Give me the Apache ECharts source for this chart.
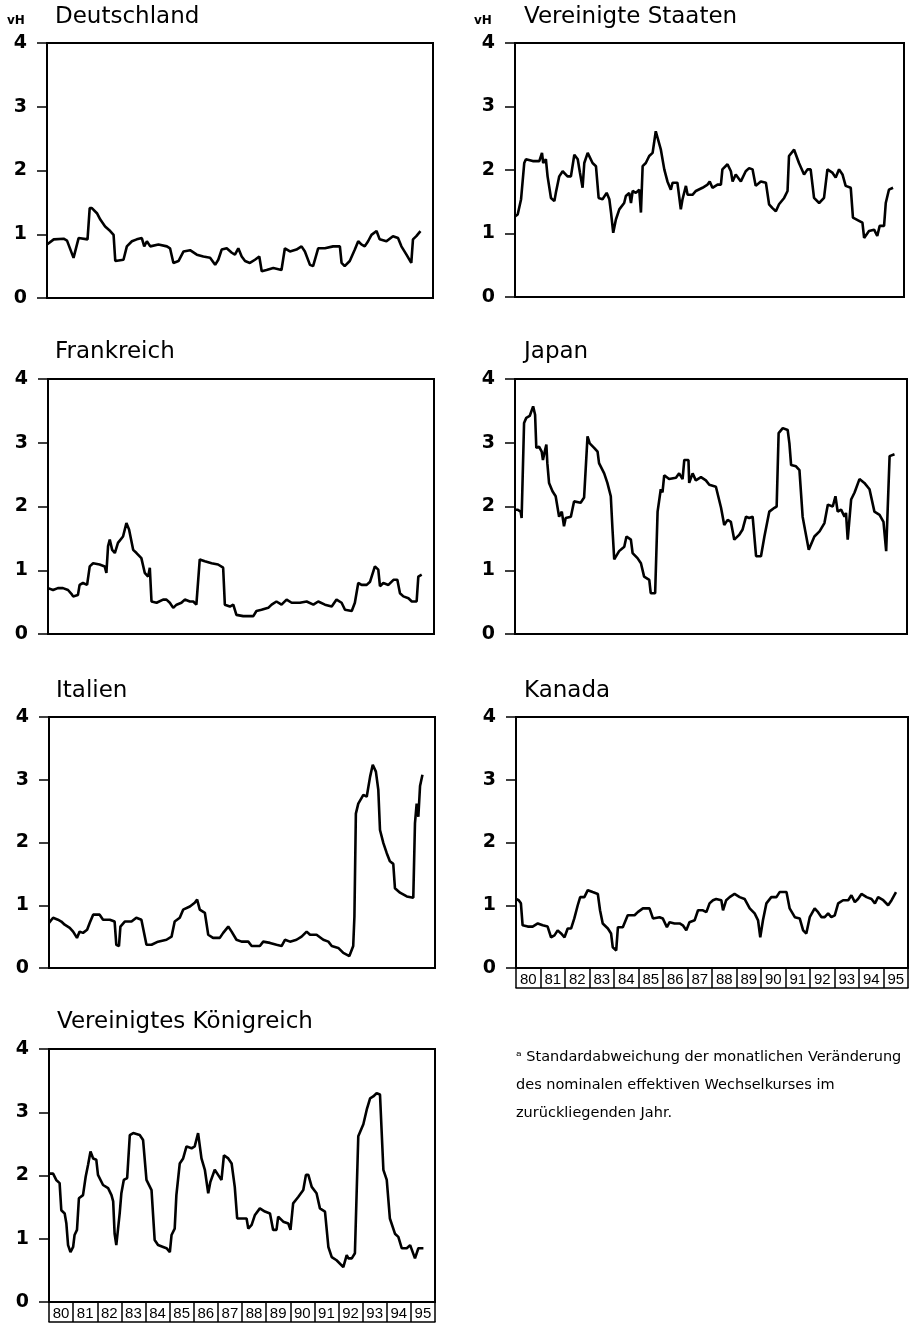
<!DOCTYPE html>
<html>
<head>
<meta charset="utf-8">
<script src="https://cdn.jsdelivr.net/npm/echarts@6/dist/echarts.min.js"></script>
<style>
html,body{margin:0;padding:0;background:#fff;}
#chart{width:912px;height:1325px;}
</style>
</head>
<body>
<div id="chart"></div>
<script>
// ---- Data: [year, vH] ----
const yearLabels = ['80','81','82','83','84','85','86','87','88','89','90','91','92','93','94','95'];
const yTickMin = 0, yTickMax = 4, yTickStep = 1;
const xMin = 1980, xMax = 1996;

const deutschland = [[1980.0,0.84],[1980.28,0.92],[1980.69,0.93],[1980.83,0.9],[1981.1,0.63],[1981.31,0.94],[1981.68,0.92],[1981.77,1.41],[1981.86,1.41],[1982.07,1.33],[1982.21,1.23],[1982.41,1.12],[1982.62,1.05],[1982.76,0.99],[1982.83,0.58],[1982.9,0.6],[1983.17,0.6],[1983.31,0.81],[1983.52,0.89],[1983.72,0.92],[1983.93,0.94],[1984.03,0.81],[1984.14,0.89],[1984.28,0.81],[1984.62,0.84],[1984.97,0.81],[1985.1,0.78],[1985.24,0.55],[1985.45,0.58],[1985.66,0.73],[1985.93,0.75],[1986.21,0.68],[1986.48,0.65],[1986.76,0.63],[1986.97,0.52],[1987.1,0.6],[1987.24,0.76],[1987.45,0.78],[1987.66,0.71],[1987.79,0.68],[1987.93,0.78],[1988.07,0.65],[1988.21,0.58],[1988.41,0.55],[1988.62,0.6],[1988.8,0.65],[1988.9,0.42],[1989.1,0.44],[1989.38,0.47],[1989.72,0.44],[1989.86,0.78],[1990.07,0.73],[1990.34,0.76],[1990.55,0.81],[1990.69,0.73],[1990.9,0.52],[1991.03,0.5],[1991.24,0.78],[1991.52,0.78],[1991.86,0.81],[1992.14,0.81],[1992.21,0.55],[1992.34,0.5],[1992.55,0.58],[1992.76,0.76],[1992.9,0.89],[1993.03,0.84],[1993.17,0.81],[1993.31,0.89],[1993.45,0.99],[1993.66,1.05],[1993.79,0.92],[1994.07,0.89],[1994.34,0.97],[1994.55,0.94],[1994.69,0.81],[1994.9,0.68],[1995.1,0.55],[1995.17,0.92],[1995.31,0.97],[1995.48,1.05]];

const vereinigteStaaten = [[1980.0,1.27],[1980.11,1.3],[1980.25,1.54],[1980.32,1.56],[1980.38,2.11],[1980.45,2.17],[1980.73,2.14],[1981.0,2.14],[1981.11,2.27],[1981.16,2.11],[1981.27,2.17],[1981.34,1.9],[1981.48,1.56],[1981.62,1.51],[1981.68,1.64],[1981.82,1.9],[1981.96,1.98],[1982.16,1.9],[1982.3,1.9],[1982.44,2.24],[1982.58,2.17],[1982.67,1.96],[1982.78,1.72],[1982.85,2.11],[1982.99,2.27],[1983.19,2.11],[1983.33,2.06],[1983.44,1.56],[1983.6,1.54],[1983.77,1.64],[1983.88,1.54],[1983.95,1.33],[1984.04,1.01],[1984.15,1.22],[1984.29,1.38],[1984.49,1.48],[1984.56,1.59],[1984.7,1.64],[1984.77,1.48],[1984.84,1.67],[1984.97,1.64],[1985.11,1.69],[1985.18,1.33],[1985.25,2.06],[1985.38,2.11],[1985.52,2.22],[1985.66,2.27],[1985.79,2.61],[1985.86,2.61],[1986.0,2.32],[1986.14,2.01],[1986.27,1.82],[1986.41,1.69],[1986.48,1.8],[1986.68,1.8],[1986.82,1.38],[1986.89,1.54],[1987.03,1.75],[1987.1,1.61],[1987.3,1.61],[1987.44,1.67],[1987.71,1.72],[1987.92,1.77],[1988.01,1.82],[1988.12,1.72],[1988.33,1.77],[1988.47,1.77],[1988.53,2.01],[1988.74,2.09],[1988.88,1.98],[1988.95,1.82],[1989.08,1.93],[1989.29,1.82],[1989.49,1.98],[1989.63,2.03],[1989.77,2.01],[1989.9,1.75],[1990.11,1.82],[1990.32,1.8],[1990.45,1.46],[1990.59,1.4],[1990.73,1.35],[1990.86,1.46],[1991.07,1.56],[1991.21,1.67],[1991.27,2.22],[1991.48,2.32],[1991.55,2.32],[1991.68,2.11],[1991.89,1.93],[1992.03,2.01],[1992.16,2.01],[1992.3,1.56],[1992.51,1.48],[1992.71,1.56],[1992.85,2.01],[1993.05,1.96],[1993.19,1.88],[1993.33,2.01],[1993.47,1.93],[1993.6,1.75],[1993.81,1.72],[1993.9,1.25],[1994.15,1.2],[1994.29,1.17],[1994.36,0.93],[1994.56,1.04],[1994.77,1.06],[1994.9,0.96],[1995.0,1.12],[1995.18,1.12],[1995.25,1.48],[1995.38,1.69],[1995.55,1.72]];

const frankreich = [[1980.0,0.72],[1980.21,0.69],[1980.41,0.72],[1980.62,0.72],[1980.83,0.69],[1980.97,0.63],[1981.04,0.59],[1981.24,0.61],[1981.31,0.77],[1981.45,0.8],[1981.62,0.77],[1981.73,1.06],[1981.87,1.11],[1982.14,1.09],[1982.35,1.06],[1982.42,0.96],[1982.49,1.38],[1982.56,1.48],[1982.66,1.32],[1982.77,1.27],[1982.9,1.43],[1983.11,1.53],[1983.25,1.74],[1983.36,1.64],[1983.53,1.32],[1983.67,1.27],[1983.87,1.19],[1984.01,0.96],[1984.15,0.9],[1984.22,1.04],[1984.29,0.51],[1984.5,0.49],[1984.77,0.54],[1984.91,0.54],[1985.05,0.49],[1985.19,0.41],[1985.33,0.46],[1985.53,0.49],[1985.67,0.54],[1985.88,0.51],[1986.02,0.51],[1986.15,0.46],[1986.29,1.17],[1986.5,1.14],[1986.78,1.11],[1987.05,1.09],[1987.26,1.04],[1987.33,0.46],[1987.54,0.43],[1987.68,0.46],[1987.81,0.3],[1988.09,0.28],[1988.51,0.28],[1988.64,0.36],[1988.85,0.38],[1989.13,0.41],[1989.27,0.46],[1989.47,0.51],[1989.68,0.46],[1989.89,0.54],[1990.1,0.49],[1990.44,0.49],[1990.72,0.51],[1991.0,0.46],[1991.2,0.51],[1991.48,0.46],[1991.76,0.43],[1991.96,0.54],[1992.17,0.49],[1992.31,0.38],[1992.59,0.36],[1992.72,0.49],[1992.86,0.8],[1993.0,0.77],[1993.21,0.77],[1993.35,0.82],[1993.55,1.06],[1993.69,1.01],[1993.76,0.75],[1993.9,0.8],[1994.11,0.77],[1994.32,0.85],[1994.48,0.85],[1994.59,0.64],[1994.73,0.59],[1994.94,0.56],[1995.08,0.51],[1995.28,0.51],[1995.35,0.9],[1995.49,0.93]];

const japan = [[1980.0,1.95],[1980.1,1.95],[1980.23,1.92],[1980.27,1.82],[1980.37,3.31],[1980.46,3.39],[1980.6,3.42],[1980.74,3.57],[1980.82,3.44],[1980.87,2.92],[1980.98,2.94],[1981.09,2.86],[1981.14,2.73],[1981.23,2.89],[1981.28,2.97],[1981.32,2.68],[1981.39,2.37],[1981.53,2.24],[1981.66,2.16],[1981.8,1.84],[1981.91,1.92],[1982.0,1.69],[1982.07,1.82],[1982.28,1.84],[1982.41,2.08],[1982.68,2.06],[1982.82,2.14],[1982.96,3.1],[1983.05,2.99],[1983.23,2.92],[1983.37,2.86],[1983.43,2.68],[1983.64,2.52],[1983.77,2.37],[1983.91,2.16],[1983.98,1.64],[1984.05,1.17],[1984.25,1.3],[1984.46,1.37],[1984.55,1.53],[1984.73,1.48],[1984.8,1.27],[1985.0,1.19],[1985.14,1.11],[1985.27,0.9],[1985.48,0.85],[1985.54,0.64],[1985.72,0.64],[1985.82,1.92],[1985.95,2.27],[1986.02,2.22],[1986.09,2.49],[1986.29,2.43],[1986.57,2.45],[1986.7,2.52],[1986.84,2.43],[1986.91,2.73],[1987.08,2.73],[1987.11,2.37],[1987.25,2.52],[1987.38,2.41],[1987.59,2.46],[1987.79,2.41],[1987.93,2.34],[1988.2,2.31],[1988.41,1.98],[1988.54,1.71],[1988.68,1.79],[1988.81,1.76],[1988.95,1.48],[1989.16,1.56],[1989.29,1.64],[1989.43,1.84],[1989.56,1.82],[1989.7,1.84],[1989.84,1.22],[1990.04,1.22],[1990.18,1.53],[1990.38,1.92],[1990.59,1.98],[1990.68,2.0],[1990.76,3.15],[1990.93,3.23],[1991.13,3.2],[1991.2,2.99],[1991.27,2.65],[1991.47,2.63],[1991.61,2.57],[1991.74,1.84],[1991.85,1.61],[1991.99,1.32],[1992.22,1.53],[1992.43,1.61],[1992.63,1.74],[1992.77,2.03],[1992.97,2.0],[1993.08,2.16],[1993.17,1.92],[1993.31,1.95],[1993.45,1.84],[1993.51,1.9],[1993.58,1.48],[1993.72,2.11],[1993.86,2.22],[1994.06,2.43],[1994.26,2.37],[1994.47,2.27],[1994.67,1.92],[1994.88,1.87],[1995.04,1.76],[1995.15,1.3],[1995.29,2.79],[1995.49,2.82]];

const italien = [[1980.0,0.72],[1980.17,0.8],[1980.37,0.77],[1980.51,0.74],[1980.65,0.69],[1980.86,0.64],[1981.0,0.58],[1981.16,0.48],[1981.27,0.58],[1981.41,0.56],[1981.58,0.61],[1981.69,0.72],[1981.83,0.85],[1982.1,0.85],[1982.24,0.77],[1982.52,0.77],[1982.72,0.74],[1982.79,0.37],[1982.9,0.35],[1982.96,0.66],[1983.14,0.74],[1983.42,0.74],[1983.62,0.8],[1983.83,0.77],[1984.04,0.37],[1984.25,0.37],[1984.52,0.42],[1984.87,0.45],[1985.08,0.5],[1985.21,0.74],[1985.42,0.8],[1985.56,0.93],[1985.84,0.98],[1986.04,1.04],[1986.14,1.09],[1986.25,0.93],[1986.46,0.88],[1986.6,0.53],[1986.8,0.48],[1987.08,0.48],[1987.22,0.56],[1987.43,0.66],[1987.57,0.58],[1987.77,0.45],[1987.98,0.42],[1988.26,0.42],[1988.4,0.35],[1988.74,0.35],[1988.88,0.42],[1989.16,0.4],[1989.43,0.37],[1989.64,0.35],[1989.78,0.45],[1989.99,0.42],[1990.26,0.45],[1990.47,0.5],[1990.68,0.58],[1990.82,0.53],[1991.09,0.53],[1991.37,0.45],[1991.58,0.42],[1991.72,0.35],[1991.99,0.32],[1992.2,0.24],[1992.45,0.19],[1992.61,0.35],[1992.66,0.82],[1992.72,2.46],[1992.82,2.62],[1993.03,2.76],[1993.17,2.73],[1993.31,3.05],[1993.42,3.24],[1993.55,3.13],[1993.65,2.84],[1993.72,2.2],[1993.86,1.99],[1994.0,1.83],[1994.13,1.7],[1994.27,1.66],[1994.34,1.27],[1994.55,1.2],[1994.83,1.14],[1995.1,1.12],[1995.17,2.31],[1995.24,2.62],[1995.31,2.41],[1995.38,2.9],[1995.48,3.08]];

const kanada = [[1980.0,1.1],[1980.11,1.08],[1980.2,1.03],[1980.27,0.68],[1980.48,0.66],[1980.68,0.66],[1980.89,0.71],[1981.09,0.68],[1981.29,0.66],[1981.43,0.49],[1981.57,0.52],[1981.7,0.6],[1981.84,0.55],[1981.98,0.49],[1982.11,0.63],[1982.25,0.63],[1982.38,0.79],[1982.52,1.0],[1982.62,1.13],[1982.79,1.13],[1982.93,1.24],[1983.13,1.21],[1983.34,1.18],[1983.43,0.92],[1983.54,0.71],[1983.75,0.63],[1983.88,0.55],[1983.95,0.33],[1984.09,0.28],[1984.16,0.65],[1984.36,0.65],[1984.56,0.84],[1984.84,0.84],[1984.97,0.89],[1985.18,0.95],[1985.45,0.95],[1985.59,0.79],[1985.86,0.81],[1985.99,0.79],[1986.16,0.65],[1986.27,0.73],[1986.47,0.71],[1986.68,0.71],[1986.81,0.68],[1986.95,0.6],[1987.08,0.73],[1987.29,0.76],[1987.43,0.92],[1987.63,0.92],[1987.77,0.89],[1987.9,1.03],[1988.04,1.08],[1988.17,1.1],[1988.38,1.08],[1988.45,0.92],[1988.58,1.08],[1988.72,1.13],[1988.92,1.18],[1989.13,1.13],[1989.33,1.1],[1989.54,0.95],[1989.74,0.87],[1989.88,0.76],[1989.97,0.49],[1990.08,0.76],[1990.22,1.03],[1990.42,1.13],[1990.63,1.13],[1990.76,1.21],[1991.04,1.21],[1991.17,0.95],[1991.38,0.81],[1991.58,0.79],[1991.72,0.6],[1991.85,0.55],[1991.99,0.81],[1992.19,0.95],[1992.33,0.89],[1992.47,0.81],[1992.6,0.81],[1992.74,0.87],[1992.87,0.81],[1993.01,0.84],[1993.15,1.03],[1993.35,1.08],[1993.56,1.08],[1993.69,1.16],[1993.83,1.05],[1993.96,1.1],[1994.1,1.18],[1994.31,1.13],[1994.51,1.1],[1994.65,1.03],[1994.78,1.13],[1994.99,1.08],[1995.19,1.0],[1995.33,1.08],[1995.51,1.21]];

const vereinigtesKoenigreich = [[1980.0,2.03],[1980.17,2.03],[1980.3,1.93],[1980.44,1.88],[1980.51,1.45],[1980.65,1.4],[1980.72,1.24],[1980.79,0.9],[1980.89,0.79],[1981.0,0.87],[1981.06,1.06],[1981.16,1.14],[1981.24,1.64],[1981.41,1.69],[1981.52,1.98],[1981.62,2.17],[1981.72,2.38],[1981.83,2.27],[1981.96,2.25],[1982.03,2.01],[1982.24,1.85],[1982.45,1.8],[1982.59,1.69],[1982.66,1.59],[1982.72,1.08],[1982.79,0.9],[1982.86,0.92],[1982.93,1.4],[1983.0,1.72],[1983.1,1.93],[1983.24,1.96],[1983.35,2.64],[1983.49,2.67],[1983.76,2.64],[1983.9,2.56],[1984.04,1.93],[1984.25,1.77],[1984.38,0.98],[1984.52,0.9],[1984.73,0.87],[1984.87,0.85],[1985.01,0.79],[1985.08,1.06],[1985.21,1.16],[1985.28,1.69],[1985.42,2.19],[1985.56,2.27],[1985.7,2.46],[1985.91,2.43],[1986.04,2.46],[1986.18,2.67],[1986.32,2.27],[1986.46,2.09],[1986.6,1.72],[1986.69,1.9],[1986.87,2.09],[1987.01,2.01],[1987.15,1.93],[1987.25,2.32],[1987.43,2.27],[1987.57,2.19],[1987.7,1.82],[1987.8,1.32],[1988.05,1.32],[1988.19,1.32],[1988.26,1.16],[1988.4,1.22],[1988.53,1.37],[1988.74,1.48],[1988.95,1.43],[1989.16,1.4],[1989.29,1.14],[1989.43,1.14],[1989.5,1.35],[1989.71,1.27],[1989.92,1.24],[1990.01,1.14],[1990.12,1.56],[1990.33,1.66],[1990.54,1.77],[1990.65,2.01],[1990.75,2.01],[1990.89,1.82],[1991.09,1.72],[1991.23,1.48],[1991.44,1.43],[1991.58,0.87],[1991.72,0.71],[1991.92,0.66],[1992.2,0.55],[1992.34,0.74],[1992.41,0.69],[1992.55,0.69],[1992.68,0.77],[1992.82,2.62],[1993.03,2.81],[1993.17,3.04],[1993.31,3.22],[1993.44,3.25],[1993.58,3.3],[1993.72,3.28],[1993.86,2.09],[1994.0,1.93],[1994.13,1.32],[1994.34,1.08],[1994.48,1.03],[1994.62,0.85],[1994.83,0.85],[1994.97,0.9],[1995.17,0.69],[1995.31,0.85],[1995.52,0.85]];

const unitLabel = 'vH';
const footnote = '\u1d43 Standardabweichung der monatlichen Veränderung\ndes nominalen effektiven Wechselkurses im\nzurückliegenden Jahr.';

// ---- Layout ----
const FONT = 'DejaVu Sans';
const panels = [
  {title:'Deutschland', data:deutschland, grid:{left:47, top:43, width:386, height:255}, titlePos:[55,6], unit:[7,15], years:false},
  {title:'Vereinigte Staaten', data:vereinigteStaaten, grid:{left:515, top:43, width:389, height:254}, titlePos:[524,6], unit:[474,15], years:false},
  {title:'Frankreich', data:frankreich, grid:{left:48, top:379, width:386, height:255}, titlePos:[55,341], years:false},
  {title:'Japan', data:japan, grid:{left:515, top:379, width:392, height:255}, titlePos:[524,341], years:false},
  {title:'Italien', data:italien, grid:{left:49, top:717, width:386, height:251}, titlePos:[56,680], years:false},
  {title:'Kanada', data:kanada, grid:{left:516, top:717, width:392, height:251}, titlePos:[524,680], years:true},
  {title:'Vereinigtes Königreich', data:vereinigtesKoenigreich, grid:{left:49, top:1049, width:386, height:253}, titlePos:[57,1011], years:true}
];

const black = '#000';
const grids = [], xAxes = [], yAxes = [], series = [], titles = [];

panels.forEach((p, i) => {
  grids.push(Object.assign({show:true, borderColor:black, borderWidth:2, backgroundColor:'transparent'}, p.grid));
  titles.push({text:p.title, left:p.titlePos[0], top:p.titlePos[1], padding:0,
    textStyle:{fontFamily:FONT, fontSize:23, fontWeight:'normal', color:black}});
  if (p.unit) {
    titles.push({text:unitLabel, left:p.unit[0], top:p.unit[1], padding:0,
      textStyle:{fontFamily:FONT, fontSize:12, fontWeight:'bold', color:black}});
  }
  const xIdx = xAxes.length;
  xAxes.push({type:'value', gridIndex:i, min:xMin, max:xMax, show:!p.years,
    axisLine:{show:true, lineStyle:{color:black, width:2}},
    axisTick:{show:false}, axisLabel:{show:false}, splitLine:{show:false}});
  if (p.years) {
    xAxes.push({type:'category', gridIndex:i, data:yearLabels, position:'bottom', boundaryGap:true,
      axisLine:{show:true, lineStyle:{color:black, width:2}},
      axisTick:{show:true, inside:false, length:20, interval:0, alignWithLabel:false, lineStyle:{color:black, width:1.5}},
      axisLabel:{show:true, interval:0, margin:4, fontFamily:'Liberation Sans', fontSize:15, color:black},
      splitLine:{show:false}});
    xAxes.push({type:'category', gridIndex:i, data:yearLabels, position:'bottom', offset:20,
      axisLine:{show:true, lineStyle:{color:black, width:1.5}},
      axisTick:{show:false}, axisLabel:{show:false}, splitLine:{show:false}});
  }
  yAxes.push({type:'value', gridIndex:i, min:yTickMin, max:yTickMax, interval:yTickStep,
    axisLine:{show:true, lineStyle:{color:black, width:2}},
    axisTick:{show:true, inside:false, length:10, lineStyle:{color:black, width:1.5}},
    axisLabel:{margin:20, fontFamily:FONT, fontSize:19, fontWeight:'bold', color:black},
    splitLine:{show:false}});
  series.push({type:'line', name:p.title, xAxisIndex:xIdx, yAxisIndex:i, data:p.data,
    showSymbol:false, symbol:'none', lineStyle:{color:black, width:2.6}, silent:true});
});

titles.push({text:footnote, left:516, top:1043, padding:0,
  textStyle:{fontFamily:FONT, fontSize:14.5, fontWeight:'normal', color:black, lineHeight:28}});

const chart = echarts.init(document.getElementById('chart'), null, {renderer:'canvas'});
chart.setOption({
  animation:false,
  backgroundColor:'#fff',
  title:titles,
  grid:grids,
  xAxis:xAxes,
  yAxis:yAxes,
  series:series
});
</script>
</body>
</html>
